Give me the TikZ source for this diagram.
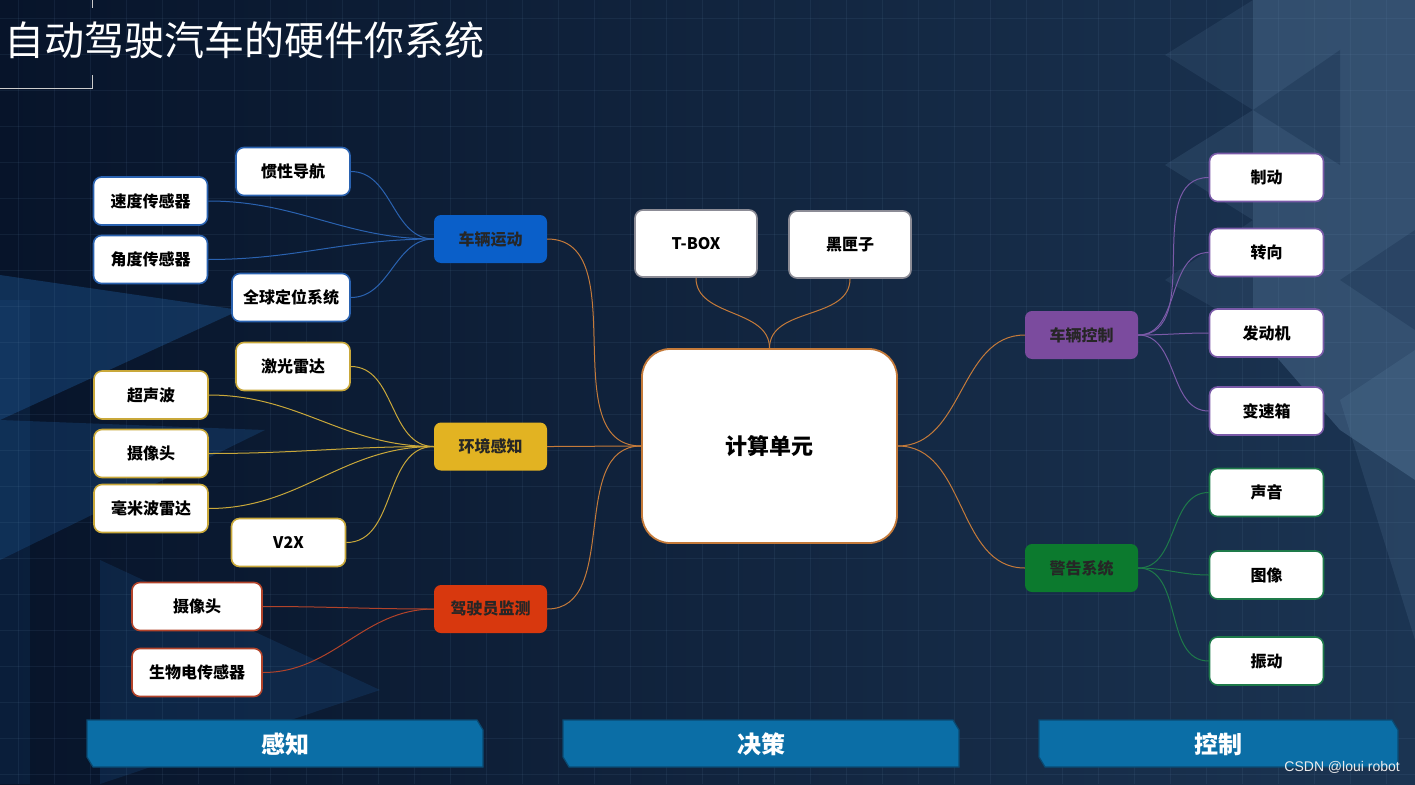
\documentclass[tikz,border=0pt]{standalone}
\usepackage{fontspec}
\newfontfamily\cjk{Noto Sans CJK SC}
\newfontfamily\wm{Liberation Sans}
\definecolor{bgleft}{HTML}{07142A}
\definecolor{bgright}{HTML}{1B3452}
\definecolor{hubblue}{HTML}{0A5FC9}
\definecolor{hubgold}{HTML}{E2B322}
\definecolor{hubred}{HTML}{D8380E}
\definecolor{hubpurple}{HTML}{7B4B9E}
\definecolor{hubgreen}{HTML}{0C7A2E}
\definecolor{lnblue}{HTML}{2A62B0}
\definecolor{lngold}{HTML}{C9A83A}
\definecolor{lnred}{HTML}{B2432A}
\definecolor{lnpurple}{HTML}{7A5AA8}
\definecolor{lngreen}{HTML}{1E7A4A}
\definecolor{lnorange}{HTML}{C47A3A}
\definecolor{lngray}{HTML}{8C8C96}
\definecolor{barblue}{HTML}{0B6EA6}
\definecolor{barshade}{HTML}{0A4A72}
\definecolor{tileblue}{HTML}{1E5A9A}
\definecolor{tilesteel}{HTML}{6E94B8}
\tikzset{
  leaf/.style={draw=#1,fill=white,line width=1.6pt,rounded corners=8pt,minimum width=114pt,minimum height=48pt,inner sep=0pt,text=black,font=\cjk\bfseries\fontsize{16}{16}\selectfont},
  hub/.style={fill=#1,rounded corners=7pt,minimum width=113pt,minimum height=48pt,inner sep=0pt,text=black!85,font=\cjk\bfseries\fontsize{16}{16}\selectfont},
  link/.style={draw=#1,line width=1pt},
  bar/.style={fill=barblue,draw=barshade,line width=1.2pt},
  bartext/.style={text=white,font=\cjk\bfseries\fontsize{24}{24}\selectfont},
  tile/.style={fill=#1,draw=none},
  gridline/.style={draw=tilesteel,opacity=0.10,line width=0.6pt}
}

\begin{document}
\begin{tikzpicture}[x=1pt,y=-1pt]
\useasboundingbox (0,0) rectangle (1415,784);
\shade[left color=bgleft,right color=bgright] (0,0) rectangle (1415,784);
\fill[tile=tilesteel,opacity=0.30] (1253,0) -- (1415,0) -- (1415,480) -- (1340,430) -- (1253,330) -- cycle;
\fill[tile=tilesteel,opacity=0.12] (1165,55) -- (1253,0) -- (1253,110) -- cycle;
\fill[tile=tilesteel,opacity=0.15] (1165,165) -- (1253,110) -- (1253,220) -- cycle;
\fill[tile=tilesteel,opacity=0.12] (1165,280) -- (1253,220) -- (1253,330) -- cycle;
\fill[tile=bgright,opacity=0.45] (1253,110) -- (1340,50) -- (1340,165) -- cycle;
\fill[tile=bgright,opacity=0.40] (1340,280) -- (1415,230) -- (1415,330) -- cycle;
\fill[tile=tilesteel,opacity=0.15] (1340,400) -- (1415,350) -- (1415,640) -- cycle;
\fill[tile=tileblue,opacity=0.40] (0,275) -- (240,310) -- (0,420) -- cycle;
\fill[tile=tileblue,opacity=0.30] (0,420) -- (265,430) -- (0,560) -- cycle;
\fill[tile=tileblue,opacity=0.22] (100,560) -- (380,690) -- (100,784) -- cycle;
\fill[tile=tileblue,opacity=0.15] (0,300) rectangle (30,784);
\foreach \gx in {18,54,...,1415}
  \draw[gridline] (\gx,0) -- (\gx,784);
\foreach \gy in {18,54,...,784}
  \draw[gridline] (0,\gy) -- (1415,\gy);
\draw[white!60!gray,line width=1pt] (0,88) -- (92,88) -- (92,75);
\draw[white!60!gray,line width=1pt] (92,0) -- (92,8);
\node[anchor=west,inner sep=0pt,text=white,font=\cjk\fontsize{40}{40}\selectfont] (title) at (4,40) {自动驾驶汽车的硬件你系统};

\node[leaf=lnorange,line width=1.8pt,minimum width=255pt,minimum height=194pt,rounded corners=28pt,font=\cjk\bfseries\fontsize{22}{22}\selectfont] (jisuan) at (769.5,446) {计算单元};
\node[leaf=lngray,minimum width=122pt,minimum height=67pt] (tbox) at (696,243.5) {T-BOX};
\node[leaf=lngray,minimum width=122pt,minimum height=67pt] (hxz) at (850,244.5) {黑匣子};

\node[hub=hubblue] (clyd) at (490.5,239) {车辆运动};
\node[hub=hubgold] (hjgz) at (490.5,446.5) {环境感知};
\node[hub=hubred] (jsyjc) at (490.5,609) {驾驶员监测};
\node[hub=hubpurple] (clkz) at (1081.5,335) {车辆控制};
\node[hub=hubgreen] (gjxt) at (1081.5,568) {警告系统};

\node[leaf=lnblue] (gxdh) at (293,171.5) {惯性导航};
\node[leaf=lnblue] (sdcgq) at (150.5,201) {速度传感器};
\node[leaf=lnblue] (jdcgq) at (150.5,259.5) {角度传感器};
\node[leaf=lnblue,minimum width=118pt] (qqdw) at (291,297.5) {全球定位系统};

\node[leaf=lngold] (jgld) at (293,366.5) {激光雷达};
\node[leaf=lngold] (csb) at (151,395) {超声波};
\node[leaf=lngold] (sxt) at (151,453.5) {摄像头};
\node[leaf=lngold] (hmbld) at (151,508.5) {毫米波雷达};
\node[leaf=lngold] (vtx) at (288.5,542.5) {V2X};

\node[leaf=lnred,minimum width=130pt] (jssxt) at (197,606.5) {摄像头};
\node[leaf=lnred,minimum width=130pt] (swdcgq) at (197,672.5) {生物电传感器};

\node[leaf=lnpurple] (zd) at (1266.5,177.5) {制动};
\node[leaf=lnpurple] (zx) at (1266.5,252.5) {转向};
\node[leaf=lnpurple] (fdj) at (1266.5,333) {发动机};
\node[leaf=lnpurple] (bsx) at (1266.5,411) {变速箱};

\node[leaf=lngreen] (sy) at (1266.5,492.5) {声音};
\node[leaf=lngreen] (tx) at (1266.5,575) {图像};
\node[leaf=lngreen] (zhd) at (1266.5,661) {振动};

\draw[link=lnorange] (tbox.south) to[out=-90,in=90] (jisuan.north);
\draw[link=lnorange] (hxz.south) to[out=-90,in=90] (jisuan.north);
\draw[link=lnorange] (clyd.east) to[out=0,in=180] (jisuan.west);
\draw[link=lnorange] (hjgz.east) to[out=0,in=180] (jisuan.west);
\draw[link=lnorange] (jsyjc.east) to[out=0,in=180] (jisuan.west);
\draw[link=lnorange] (jisuan.east) to[out=0,in=180] (clkz.west);
\draw[link=lnorange] (jisuan.east) to[out=0,in=180] (gjxt.west);

\foreach \leafname in {gxdh,sdcgq,jdcgq,qqdw}
  \draw[link=lnblue] (\leafname.east) to[out=0,in=180] (clyd.west);
\foreach \leafname in {jgld,csb,sxt,hmbld,vtx}
  \draw[link=lngold] (\leafname.east) to[out=0,in=180] (hjgz.west);
\foreach \leafname in {jssxt,swdcgq}
  \draw[link=lnred] (\leafname.east) to[out=0,in=180] (jsyjc.west);
\foreach \leafname in {zd,zx,fdj,bsx}
  \draw[link=lnpurple] (clkz.east) to[out=0,in=180] (\leafname.west);
\foreach \leafname in {sy,tx,zhd}
  \draw[link=lngreen] (gjxt.east) to[out=0,in=180] (\leafname.west);

\draw[bar] (87,720) -- (477,720) -- (483,730) -- (483,767) -- (93,767) -- (87,757) -- cycle;
\draw[bar] (563,720) -- (953,720) -- (959,730) -- (959,767) -- (569,767) -- (563,757) -- cycle;
\draw[bar] (1039,720) -- (1392,720) -- (1398,730) -- (1398,767) -- (1045,767) -- (1039,757) -- cycle;
\node[bartext] (gz) at (285,744) {感知};
\node[bartext] (jc) at (761,744) {决策};
\node[bartext] (kz) at (1218,744) {控制};
\node[anchor=east,inner sep=0pt,text=white!85!gray,font=\wm\fontsize{14}{14}\selectfont] (mark) at (1400,767) {CSDN @loui robot};
\end{tikzpicture}
\end{document}
